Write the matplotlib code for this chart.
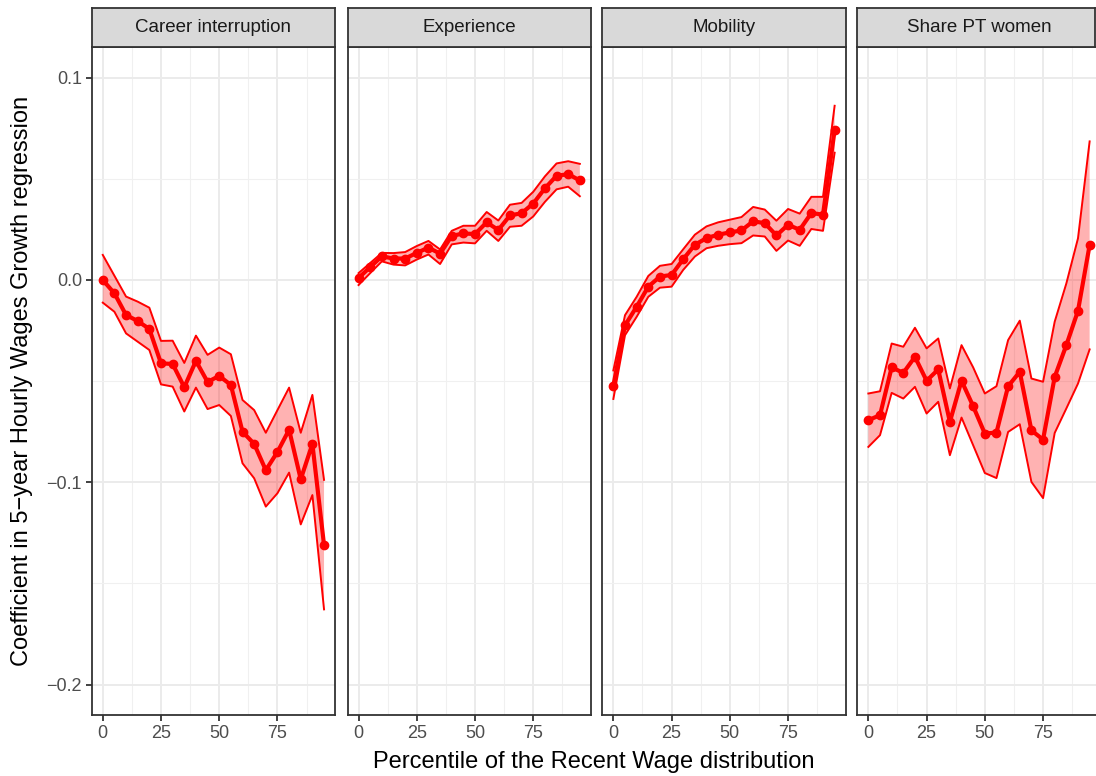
import matplotlib
matplotlib.use('agg')
import matplotlib.pyplot as plt
import numpy as np

plt.rcParams['font.family'] = ['Liberation Sans', 'DejaVu Sans']

# percentiles of the recent wage distribution
pct = np.arange(0, 100, 5)

panels = ['Career interruption', 'Experience', 'Mobility', 'Share PT women']

career_est = [0.000, -0.0066, -0.0173, -0.0203, -0.0242, -0.0412, -0.0415, -0.053, -0.040, -0.0504,
              -0.0474, -0.0519, -0.075, -0.081, -0.094, -0.085, -0.074, -0.0985, -0.081, -0.131]
career_hi = [0.0124, 0.0021, -0.0082, -0.0107, -0.0137, -0.0301, -0.030, -0.041, -0.0275, -0.037,
             -0.0334, -0.0367, -0.0593, -0.0643, -0.0755, -0.0643, -0.0532, -0.0755, -0.0568, -0.0988]
career_lo = [-0.0112, -0.0157, -0.0264, -0.0305, -0.0346, -0.0516, -0.0527, -0.065, -0.0532, -0.0638,
             -0.0618, -0.0672, -0.0906, -0.098, -0.112, -0.1054, -0.0952, -0.1208, -0.1063, -0.1628]

exper_est = [0.001, 0.0064, 0.0117, 0.0106, 0.0106, 0.0134, 0.016, 0.013, 0.0218, 0.023,
             0.0227, 0.0285, 0.0247, 0.0319, 0.033, 0.0378, 0.0453, 0.0515, 0.0523, 0.0492]
exper_hi = [0.0034, 0.0084, 0.0134, 0.0133, 0.0138, 0.0168, 0.0193, 0.0151, 0.0243, 0.0268,
            0.0268, 0.0336, 0.0294, 0.0372, 0.0381, 0.0436, 0.0512, 0.0576, 0.0587, 0.0574]
exper_lo = [-0.0025, 0.0034, 0.0092, 0.0076, 0.0072, 0.0101, 0.0126, 0.0079, 0.0176, 0.0185,
            0.0181, 0.0243, 0.0193, 0.0263, 0.0268, 0.0314, 0.0386, 0.0448, 0.0461, 0.0414]

mobil_est = [-0.0522, -0.0224, -0.0132, -0.0033, 0.0017, 0.0025, 0.0103, 0.0174, 0.0207, 0.0224,
             0.0235, 0.0245, 0.029, 0.0281, 0.022, 0.0273, 0.0248, 0.0331, 0.0323, 0.074]
mobil_hi = [-0.0447, -0.0174, -0.0083, 0.002, 0.007, 0.0079, 0.0152, 0.0224, 0.0265, 0.0285,
            0.0298, 0.0311, 0.0361, 0.0348, 0.0293, 0.0351, 0.0328, 0.0411, 0.0411, 0.0861]
mobil_lo = [-0.0588, -0.0273, -0.0182, -0.0083, -0.0038, -0.0033, 0.005, 0.0116, 0.0157, 0.0169,
            0.0177, 0.0182, 0.022, 0.0215, 0.0144, 0.0195, 0.0169, 0.0252, 0.0243, 0.0629]

sharept_est = [-0.0693, -0.0668, -0.0432, -0.0459, -0.038, -0.0498, -0.0442, -0.0701, -0.0498, -0.0624,
               -0.0759, -0.0754, -0.0525, -0.0454, -0.0743, -0.0789, -0.0479, -0.0322, -0.0152, 0.0173]
sharept_hi = [-0.0561, -0.055, -0.0314, -0.033, -0.0236, -0.0338, -0.0289, -0.0536, -0.0322, -0.0432,
              -0.0561, -0.0525, -0.0297, -0.0201, -0.0487, -0.0503, -0.0206, -0.0017, 0.0206, 0.0685]
sharept_lo = [-0.0825, -0.0767, -0.0558, -0.0586, -0.0528, -0.066, -0.0602, -0.0866, -0.068, -0.0817,
              -0.0954, -0.0979, -0.0751, -0.0713, -0.0998, -0.1078, -0.0756, -0.0635, -0.0512, -0.0343]

ests = [career_est, exper_est, mobil_est, sharept_est]
his = [career_hi, exper_hi, mobil_hi, sharept_hi]
los = [career_lo, exper_lo, mobil_lo, sharept_lo]

W, H = 1096, 776
fig = plt.figure(figsize=(W / 100, H / 100), dpi=100)

lefts = [91.7, 347.5, 602.3, 857.3]
pw = 243.4
top, bottom = 46.7, 715.0
strip_top = 8.3

for i, name in enumerate(panels):
    ax = fig.add_axes([lefts[i] / W, 1 - bottom / H, pw / W, (bottom - top) / H])
    ax.set_xlim(-4.75, 99.75)
    ax.set_ylim(-0.215, 0.1153)
    ax.set_xticks([0, 25, 50, 75])
    ax.set_xticks([12.5, 37.5, 62.5, 87.5], minor=True)
    ax.set_yticks([-0.2, -0.1, 0.0, 0.1])
    ax.set_yticks([-0.15, -0.05, 0.05], minor=True)
    ax.grid(which='major', color='#EBEBEB', linewidth=1.4)
    ax.grid(which='minor', color='#F0F0F0', linewidth=0.8)
    ax.set_axisbelow(True)
    for s in ax.spines.values():
        s.set_color('#333333')
        s.set_linewidth(1.3)
    ax.tick_params(which='major', length=4, width=1.3, color='#333333',
                   labelsize=13, labelcolor='#4D4D4D', pad=3)
    ax.tick_params(which='minor', length=0)
    if i == 0:
        ax.set_yticklabels(['\u22120.2', '\u22120.1', '0.0', '0.1'])
    else:
        ax.tick_params(axis='y', which='major', length=0, labelleft=False)

    ax.fill_between(pct, los[i], his[i], facecolor='#FF0000', alpha=0.3,
                    edgecolor='none', zorder=2)
    ax.plot(pct, his[i], color='#FF0000', linewidth=1.4, zorder=3)
    ax.plot(pct, los[i], color='#FF0000', linewidth=1.4, zorder=3)
    ax.plot(pct, ests[i], color='#FF0000', linewidth=3.0, marker='o',
            markersize=6, zorder=4)

    # facet strip
    sw = min(pw, 1095.3 - lefts[i])
    sax = fig.add_axes([lefts[i] / W, 1 - top / H, sw / W, (top - strip_top) / H])
    sax.set_facecolor('#D9D9D9')
    sax.set_xticks([])
    sax.set_yticks([])
    for s in sax.spines.values():
        s.set_color('#333333')
        s.set_linewidth(1.3)
    sax.text(0.5 * pw / sw, 0.5, name, transform=sax.transAxes, ha='center',
             va='center', fontsize=13.5, color='#1A1A1A')

fig.text((91.7 + 1095) / 2 / W, 1 - 762 / H, 'Percentile of the Recent Wage distribution',
         ha='center', va='center', fontsize=17, color='black')
fig.text(22 / W, 1 - 381 / H, 'Coefficient in 5\u2212year Hourly Wages Growth regression',
         ha='center', va='center', rotation=90, fontsize=17, color='black')

fig.savefig('out.png', dpi=100)
